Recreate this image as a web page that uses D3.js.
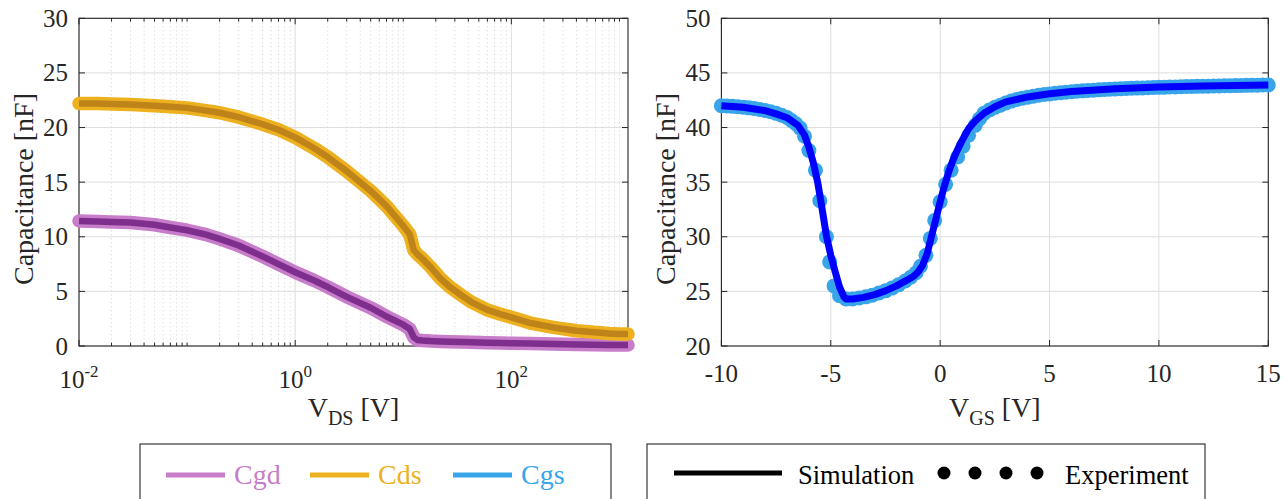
<!DOCTYPE html>
<html><head><meta charset="utf-8">
<script src="https://cdn.jsdelivr.net/npm/d3@7"></script>
<style>html,body{margin:0;padding:0;background:#fff;overflow:hidden;} svg{display:block;}</style>
</head><body>
<svg id="chart" width="1287" height="499"></svg>
<script>
// ---------- data ----------
const vds = [0.01, 0.015, 0.02, 0.03, 0.05, 0.07, 0.1, 0.15, 0.2, 0.3, 0.5, 0.7, 1, 1.5, 2, 3, 5, 7, 10, 11.5, 12.5, 13.5, 15, 18, 22, 27, 35, 43, 60, 80, 102, 150, 244, 400, 585, 800, 1000, 1200];
const cgd = [11.45, 11.4, 11.35, 11.3, 11.1, 10.85, 10.6, 10.2, 9.8, 9.2, 8.2, 7.5, 6.75, 6.0, 5.4, 4.5, 3.5, 2.7, 1.95, 1.55, 0.8, 0.55, 0.5, 0.45, 0.42, 0.4, 0.37, 0.34, 0.3, 0.27, 0.25, 0.22, 0.18, 0.14, 0.12, 0.1, 0.1, 0.1];
const cds = [22.2, 22.2, 22.15, 22.1, 22.0, 21.9, 21.8, 21.55, 21.35, 20.95, 20.3, 19.8, 19.1, 18.1, 17.3, 16.0, 14.2, 12.8, 11.0, 10.2, 8.8, 8.4, 8.0, 7.2, 6.2, 5.4, 4.6, 4.0, 3.3, 2.9, 2.6, 2.1, 1.7, 1.4, 1.25, 1.15, 1.1, 1.1];

const vgsSim = [-10, -9, -8, -7.5, -7, -6.5, -6.2, -6.0, -5.8, -5.6, -5.4, -5.2, -5.0, -4.8, -4.6, -4.4, -4.3, -4.0, -3.5, -3.0, -2.5, -2.0, -1.5, -1.2, -1.0, -0.8, -0.6, -0.4, -0.2, 0, 0.2, 0.4, 0.6, 0.8, 1.0, 1.3, 1.6, 2.0, 2.5, 3, 4, 5, 6, 8, 10, 12, 15];
const cgsSim = [42.0, 41.85, 41.55, 41.25, 40.9, 40.2, 39.3, 38.2, 36.8, 35.0, 32.6, 30.1, 28.3, 26.8, 25.4, 24.5, 24.3, 24.3, 24.45, 24.7, 25.05, 25.5, 26.05, 26.4, 26.8, 27.4, 28.4, 30.0, 31.6, 33.2, 34.7, 36.0, 37.1, 38.0, 38.8, 39.9, 40.6, 41.3, 41.9, 42.35, 42.8, 43.1, 43.3, 43.55, 43.7, 43.8, 43.9];

const vgsExp = [-10, -9.75, -9.5, -9.25, -9, -8.75, -8.5, -8.25, -8, -7.75, -7.5, -7.25, -7.0, -6.8, -6.6, -6.4, -6.2, -6.0, -5.7, -5.5, -5.2, -5.05, -4.85, -4.6, -4.3, -4.0, -3.7, -3.4, -3.1, -2.8, -2.5, -2.2, -1.9, -1.6, -1.35, -1.1, -0.9, -0.65, -0.45, -0.25, 0.0, 0.25, 0.5, 0.8, 1.05, 1.3, 1.6, 1.8, 2.0, 2.25, 2.5, 2.75, 3.0, 3.25, 3.5, 3.75, 4.0, 4.25, 4.5, 4.75, 5.0, 5.25, 5.5, 5.75, 6.0, 6.25, 6.5, 6.75, 7.0, 7.25, 7.5, 7.75, 8.0, 8.25, 8.5, 8.75, 9.0, 9.25, 9.5, 9.75, 10, 10.25, 10.5, 10.75, 11, 11.25, 11.5, 11.75, 12, 12.25, 12.5, 12.75, 13, 13.25, 13.5, 13.75, 14, 14.25, 14.5, 14.75, 15];
const cgsExp = [42.0, 41.97, 41.94, 41.9, 41.86, 41.8, 41.74, 41.66, 41.56, 41.45, 41.3, 41.13, 40.92, 40.65, 40.35, 39.95, 39.2, 37.9, 36.1, 33.3, 30.0, 27.7, 25.5, 24.6, 24.3, 24.3, 24.4, 24.5, 24.65, 24.85, 25.05, 25.3, 25.6, 25.95, 26.3, 26.7, 27.3, 28.3, 29.85, 31.5, 33.2, 34.8, 36.1, 37.3, 38.3, 39.3, 40.2, 40.8, 41.3, 41.6, 41.85, 42.05, 42.25, 42.42, 42.56, 42.68, 42.78, 42.87, 42.95, 43.02, 43.08, 43.14, 43.19, 43.24, 43.28, 43.32, 43.36, 43.39, 43.42, 43.45, 43.48, 43.5, 43.53, 43.55, 43.57, 43.59, 43.61, 43.63, 43.65, 43.66, 43.68, 43.69, 43.71, 43.72, 43.73, 43.75, 43.76, 43.77, 43.78, 43.79, 43.8, 43.81, 43.82, 43.83, 43.84, 43.85, 43.86, 43.87, 43.88, 43.89, 43.9];

const leftYTicks = [0, 5, 10, 15, 20, 25, 30];
const leftXMajor = [0.01, 1, 100];
const leftXExp = [-2, 0, 2];
const rightYTicks = [20, 25, 30, 35, 40, 45, 50];
const rightXTicks = [-10, -5, 0, 5, 10, 15];
const legendLeftLabels = ["Cgd", "Cds", "Cgs"];
const legendRightLabels = ["Simulation", "Experiment"];

// ---------- style ----------
const FONT = "'Liberation Serif', 'Times New Roman', serif";
const AX = "#262626";
const GRID = "#dedede";
const MINOR = "#d0d0d0";
const purpleL = "#C77DC9", purpleD = "#7E2F8E";
const orangeL = "#EDB120", orangeD = "#BE8419";
const blueL = "#38A4EA", blueD = "#0000FF";

const svg = d3.select("#chart");

function frame(g, x0, x1, y0, y1) {
  g.append("rect").attr("x", x0).attr("y", y0).attr("width", x1 - x0).attr("height", y1 - y0)
    .attr("fill", "none").attr("stroke", AX).attr("stroke-width", 1.1);
}

// ---------- LEFT ----------
const L = {x0: 79, x1: 628, y0: 18.3, y1: 346};
const xL = d3.scaleLog().domain([0.01, 1200]).range([L.x0, L.x1]);
const yL = d3.scaleLinear().domain([0, 30]).range([L.y1, L.y0]);
const gL = svg.append("g");

const allLogTicks = xL.ticks();
const minorL = allLogTicks.filter(t => !leftXMajor.some(m => Math.abs(m - t) / t < 1e-6));

gL.selectAll(".mg").data(minorL).enter().append("line")
  .attr("x1", d => xL(d)).attr("x2", d => xL(d)).attr("y1", L.y0).attr("y2", L.y1)
  .attr("stroke", MINOR).attr("stroke-width", 1).attr("stroke-dasharray", "1,3");
gL.selectAll(".gx").data(leftXMajor).enter().append("line")
  .attr("x1", d => xL(d)).attr("x2", d => xL(d)).attr("y1", L.y0).attr("y2", L.y1)
  .attr("stroke", GRID).attr("stroke-width", 1);
gL.selectAll(".gy").data(leftYTicks).enter().append("line")
  .attr("x1", L.x0).attr("x2", L.x1).attr("y1", d => yL(d)).attr("y2", d => yL(d))
  .attr("stroke", GRID).attr("stroke-width", 1);

frame(gL, L.x0, L.x1, L.y0, L.y1);
[L.y1, L.y0].forEach((yy, i) => {
  const s = i === 0 ? -1 : 1;
  gL.selectAll(null).data(leftXMajor).enter().append("line")
    .attr("x1", d => xL(d)).attr("x2", d => xL(d)).attr("y1", yy).attr("y2", yy + s * 6)
    .attr("stroke", AX).attr("stroke-width", 1);
  gL.selectAll(null).data(minorL).enter().append("line")
    .attr("x1", d => xL(d)).attr("x2", d => xL(d)).attr("y1", yy).attr("y2", yy + s * 3.3)
    .attr("stroke", AX).attr("stroke-width", 1);
});
[L.x0, L.x1].forEach((xx, i) => {
  const s = i === 0 ? 1 : -1;
  gL.selectAll(null).data(leftYTicks).enter().append("line")
    .attr("x1", xx).attr("x2", xx + s * 6).attr("y1", d => yL(d)).attr("y2", d => yL(d))
    .attr("stroke", AX).attr("stroke-width", 1);
});
gL.selectAll(".yl").data(leftYTicks).enter().append("text")
  .attr("x", L.x0 - 11).attr("y", d => yL(d) + 8.5).attr("text-anchor", "end")
  .attr("font-family", FONT).attr("font-size", 25).attr("fill", AX).text(d => d);
leftXExp.forEach((e, i) => {
  const t = gL.append("text").attr("x", xL(leftXMajor[i])).attr("y", 388).attr("text-anchor", "middle")
    .attr("font-family", FONT).attr("font-size", 25).attr("fill", AX);
  t.append("tspan").text("10");
  t.append("tspan").attr("font-size", 17).attr("dy", -11).text(e);
});
gL.append("text").attr("transform", `translate(33,189) rotate(-90)`).attr("text-anchor", "middle")
  .attr("font-family", FONT).attr("font-size", 28).attr("fill", AX).text("Capacitance [nF]");
{
  const t = gL.append("text").attr("x", (L.x0 + L.x1) / 2).attr("y", 417).attr("text-anchor", "middle")
    .attr("font-family", FONT).attr("font-size", 28).attr("fill", AX);
  t.append("tspan").text("V");
  t.append("tspan").attr("font-size", 20).attr("dy", 8).text("DS");
  t.append("tspan").attr("dy", -8).text(" [V]");
}
const lineL = (vals) => d3.line().x((d, i) => xL(vds[i])).y(d => yL(d))(vals);
[[cgd, purpleL, purpleD], [cds, orangeL, orangeD]].forEach(([vals, cl, cd]) => {
  gL.append("path").attr("d", lineL(vals)).attr("fill", "none").attr("stroke", cl)
    .attr("stroke-width", 13.5).attr("stroke-linecap", "round").attr("stroke-linejoin", "round");
  gL.append("path").attr("d", lineL(vals)).attr("fill", "none").attr("stroke", cd)
    .attr("stroke-width", 6.5).attr("stroke-linejoin", "round");
});

// ---------- RIGHT ----------
const R = {x0: 721.4, x1: 1268.3, y0: 18.3, y1: 346};
const xR = d3.scaleLinear().domain([-10, 15]).range([R.x0, R.x1]);
const yR = d3.scaleLinear().domain([20, 50]).range([R.y1, R.y0]);
const gR = svg.append("g");
gR.selectAll(null).data(rightXTicks).enter().append("line")
  .attr("x1", d => xR(d)).attr("x2", d => xR(d)).attr("y1", R.y0).attr("y2", R.y1)
  .attr("stroke", GRID).attr("stroke-width", 1);
gR.selectAll(null).data(rightYTicks).enter().append("line")
  .attr("x1", R.x0).attr("x2", R.x1).attr("y1", d => yR(d)).attr("y2", d => yR(d))
  .attr("stroke", GRID).attr("stroke-width", 1);
frame(gR, R.x0, R.x1, R.y0, R.y1);
[R.y1, R.y0].forEach((yy, i) => {
  const s = i === 0 ? -1 : 1;
  gR.selectAll(null).data(rightXTicks).enter().append("line")
    .attr("x1", d => xR(d)).attr("x2", d => xR(d)).attr("y1", yy).attr("y2", yy + s * 6)
    .attr("stroke", AX).attr("stroke-width", 1);
});
[R.x0, R.x1].forEach((xx, i) => {
  const s = i === 0 ? 1 : -1;
  gR.selectAll(null).data(rightYTicks).enter().append("line")
    .attr("x1", xx).attr("x2", xx + s * 6).attr("y1", d => yR(d)).attr("y2", d => yR(d))
    .attr("stroke", AX).attr("stroke-width", 1);
});
gR.selectAll(null).data(rightYTicks).enter().append("text")
  .attr("x", R.x0 - 11).attr("y", d => yR(d) + 8.5).attr("text-anchor", "end")
  .attr("font-family", FONT).attr("font-size", 25).attr("fill", AX).text(d => d);
gR.selectAll(null).data(rightXTicks).enter().append("text")
  .attr("x", d => xR(d)).attr("y", 382).attr("text-anchor", "middle")
  .attr("font-family", FONT).attr("font-size", 25).attr("fill", AX).text(d => String(d));
gR.append("text").attr("transform", `translate(675,189) rotate(-90)`).attr("text-anchor", "middle")
  .attr("font-family", FONT).attr("font-size", 28).attr("fill", AX).text("Capacitance [nF]");
{
  const t = gR.append("text").attr("x", (R.x0 + R.x1) / 2).attr("y", 417).attr("text-anchor", "middle")
    .attr("font-family", FONT).attr("font-size", 28).attr("fill", AX);
  t.append("tspan").text("V");
  t.append("tspan").attr("font-size", 20).attr("dy", 8).text("GS");
  t.append("tspan").attr("dy", -8).text(" [V]");
}
gR.selectAll(".exp").data(vgsExp).enter().append("circle")
  .attr("cx", d => xR(d)).attr("cy", (d, i) => yR(cgsExp[i])).attr("r", 7.5).attr("fill", blueL);
gR.append("path").attr("d", d3.line().x((d, i) => xR(vgsSim[i])).y(d => yR(d))(cgsSim))
  .attr("fill", "none").attr("stroke", blueD).attr("stroke-width", 7).attr("stroke-linejoin", "round");

// ---------- LEGENDS ----------
const lg1 = svg.append("g");
lg1.append("rect").attr("x", 140).attr("y", 444).attr("width", 471).attr("height", 80)
  .attr("fill", "#fff").attr("stroke", AX).attr("stroke-width", 1.1);
const lgCols = [purpleL, orangeL, blueL];
const lgX = [166, 310, 453];
legendLeftLabels.forEach((lab, i) => {
  lg1.append("line").attr("x1", lgX[i]).attr("x2", lgX[i] + 59).attr("y1", 475).attr("y2", 475)
    .attr("stroke", lgCols[i]).attr("stroke-width", 5);
  lg1.append("text").attr("x", lgX[i] + 68).attr("y", 484).attr("font-family", FONT).attr("font-size", 28)
    .attr("fill", lgCols[i]).text(lab);
});
const lg2 = svg.append("g");
lg2.append("rect").attr("x", 647).attr("y", 444).attr("width", 558).attr("height", 80)
  .attr("fill", "#fff").attr("stroke", AX).attr("stroke-width", 1.1);
lg2.append("line").attr("x1", 674).attr("x2", 782).attr("y1", 473).attr("y2", 473).attr("stroke", "#000").attr("stroke-width", 5);
lg2.append("text").attr("x", 798).attr("y", 484).attr("font-family", FONT).attr("font-size", 26.5).attr("fill", "#000").text(legendRightLabels[0]);
[944, 975, 1006, 1037].forEach(cx => lg2.append("circle").attr("cx", cx).attr("cy", 473).attr("r", 6.5).attr("fill", "#000"));
lg2.append("text").attr("x", 1065).attr("y", 484).attr("font-family", FONT).attr("font-size", 26.5).attr("fill", "#000").text(legendRightLabels[1]);
</script></body></html>
